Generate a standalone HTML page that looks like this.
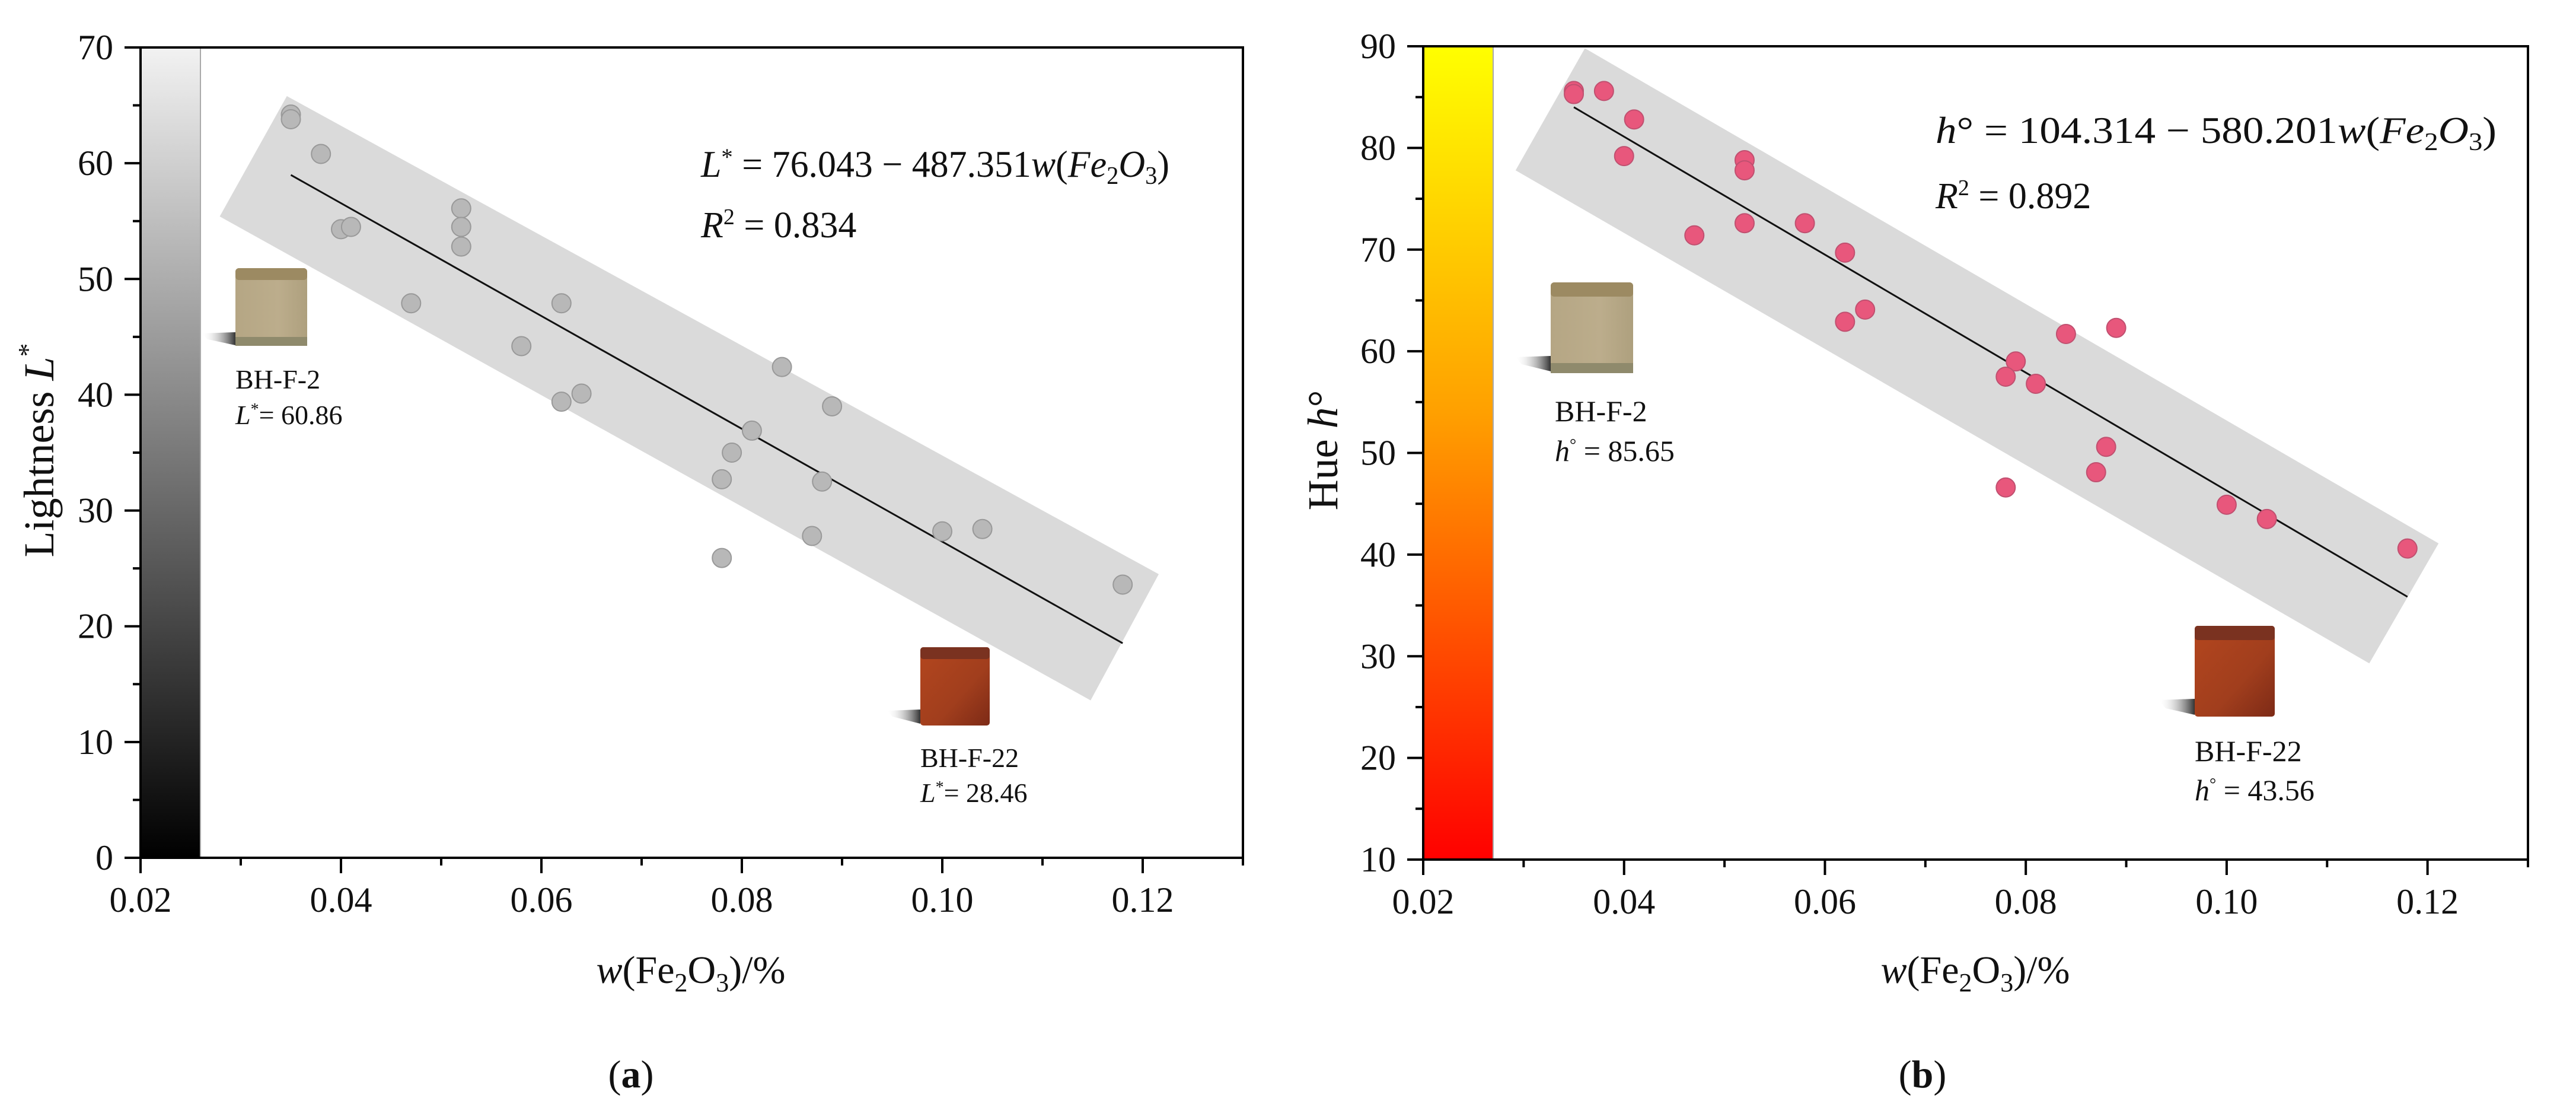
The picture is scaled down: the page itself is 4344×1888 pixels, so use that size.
<!DOCTYPE html>
<html><head><meta charset="utf-8">
<style>
html,body{margin:0;padding:0;background:#fff;}
svg{display:block;font-family:"Liberation Serif",serif;}
svg text{font-family:"Liberation Serif",serif;}
</style></head>
<body>
<svg id="fig" width="4344" height="1888" viewBox="0 0 4344 1888" xmlns="http://www.w3.org/2000/svg" style="font-family:'Liberation Serif',serif">
<defs>
<linearGradient id="gGray" x1="0" y1="0" x2="0" y2="1"><stop offset="0" stop-color="#f2f2f2"/><stop offset="1" stop-color="#000"/></linearGradient>
<linearGradient id="gHue" x1="0" y1="0" x2="0" y2="1"><stop offset="0" stop-color="#ffff00"/><stop offset="0.45" stop-color="#ffa000"/><stop offset="1" stop-color="#ff0000"/></linearGradient>
<linearGradient id="cubeA" x1="0" y1="0" x2="1" y2="0"><stop offset="0" stop-color="#b5a684"/><stop offset="0.6" stop-color="#bcad8c"/><stop offset="1" stop-color="#aea07e"/></linearGradient>
<linearGradient id="cubeB" x1="0" y1="0" x2="1" y2="1"><stop offset="0" stop-color="#b3461e"/><stop offset="0.6" stop-color="#a13e1d"/><stop offset="1" stop-color="#7d2a16"/></linearGradient>
<linearGradient id="shadow" x1="0" y1="0" x2="1" y2="0"><stop offset="0" stop-color="#fff" stop-opacity="0"/><stop offset="1" stop-color="#333"/></linearGradient>
</defs>
<g id="panelA"></g>
<g id="panelB"></g>
</svg>
<script>
// ---- Panel (a) data ----
const aX = [0.035,0.035,0.038,0.040,0.041,0.052,0.052,0.052,0.047,0.062,0.058,0.062,0.064,0.084,0.089,0.081,0.079,0.078,0.088,0.087,0.078,0.100,0.104,0.118];
const aY = [64.2,63.8,60.8,54.3,54.5,56.1,54.5,52.8,47.9,47.9,44.2,39.4,40.1,42.4,39.0,36.9,35.0,32.7,32.5,27.8,25.9,28.2,28.4,23.6];
const aFit = [76.043, -487.351];
const aFitRange = [0.035, 0.118];
const aBandX = [0.0279,0.0346,0.1216,0.1148];
const aBandY = [55.4,65.8,24.5,13.6];
const aYTicks = [0,10,20,30,40,50,60,70];
// ---- Panel (b) data ----
const bX = [0.035,0.035,0.038,0.041,0.040,0.052,0.052,0.052,0.047,0.058,0.062,0.062,0.064,0.084,0.089,0.079,0.078,0.081,0.088,0.087,0.078,0.100,0.104,0.118];
const bY = [85.6,85.3,85.6,82.8,79.2,78.8,77.8,72.6,71.4,72.6,69.7,62.9,64.1,61.7,62.3,59.0,57.5,56.8,50.6,48.1,46.6,44.9,43.5,40.6];
const bFit = [104.314, -580.201];
const bFitRange = [0.035, 0.118];
const bBandX = [0.0292,0.0361,0.1211,0.1142];
const bBandY = [77.8,89.8,41.1,29.3];
const bYTicks = [10,20,30,40,50,60,70,80,90];
const xTicks = [0.02,0.04,0.06,0.08,0.10,0.12];

const NS = "http://www.w3.org/2000/svg";
function mk(parent, tag, attrs, text){
  const e = document.createElementNS(NS, tag);
  for (const k in attrs) e.setAttribute(k, attrs[k]);
  if (text !== undefined) e.textContent = text;
  parent.appendChild(e);
  return e;
}

function drawPanel(g, cfg){
  const sx = v => cfg.x0 + (v - 0.02) / 0.11 * (cfg.x1 - cfg.x0);
  const sy = v => cfg.yb - (v - cfg.ymin) / (cfg.ymax - cfg.ymin) * (cfg.yb - cfg.yt);
  const cb = mk(g, 'rect', {x: cfg.x0, y: cfg.yt, width: cfg.cbW, height: cfg.yb - cfg.yt, fill: cfg.cbFill, stroke: '#aaa', 'stroke-width': 2});
  
  
  let pts = cfg.bandX.map((v,i) => sx(v) + ',' + sy(cfg.bandY[i])).join(' ');
  const band = mk(g, 'polygon', {points: pts, fill: '#dadada'});
  
  
  const fl = mk(g, 'line', {x1: sx(cfg.fitR[0]), y1: sy(cfg.fit[0] + cfg.fit[1]*cfg.fitR[0]), x2: sx(cfg.fitR[1]), y2: sy(cfg.fit[0] + cfg.fit[1]*cfg.fitR[1]), stroke: '#111', 'stroke-width': 3});
  
  
  cfg.xs.forEach((v,i) => {
    const c = mk(g, 'circle', {cx: sx(v), cy: sy(cfg.ys[i]), r: 16, fill: cfg.ptFill, stroke: cfg.ptStroke, 'stroke-width': 2});
    
    
  });
  const fr = mk(g, 'rect', {x: cfg.x0, y: cfg.yt, width: cfg.x1 - cfg.x0, height: cfg.yb - cfg.yt, fill: 'none', stroke: '#000', 'stroke-width': 4});
  
  
  for (let k = 0; k <= 11; k++){
    const v = 0.02 + k*0.01, X = sx(v);
    mk(g, 'line', {x1: X, y1: cfg.yb, x2: X, y2: cfg.yb + (k % 2 === 0 ? 26 : 13), stroke: '#000', 'stroke-width': 4});
  }
  xTicks.forEach(v => {
    const t = mk(g, 'text', {x: sx(v), y: cfg.yb + 91, 'font-size': 60, 'text-anchor': 'middle', fill: '#111'}, v.toFixed(2));
    t.style.fontFamily = '"Liberation Serif", serif';
    
    
  });
  for (let v = cfg.ymin; v <= cfg.ymax; v += 5){
    const Y = sy(v), major = (v % 10 === 0);
    mk(g, 'line', {x1: cfg.x0, y1: Y, x2: cfg.x0 - (major ? 27 : 13), y2: Y, stroke: '#000', 'stroke-width': 4});
  }
  cfg.yTicks.forEach(v => {
    const t = mk(g, 'text', {x: cfg.x0 - 46, y: sy(v) + 20, 'font-size': 60, 'text-anchor': 'end', fill: '#111'}, String(v));
    t.style.fontFamily = '"Liberation Serif", serif';
    
    
  });
}

const A = document.getElementById('panelA'), B = document.getElementById('panelB');
drawPanel(A, {x0: 237, x1: 2096, yt: 80, yb: 1446, ymin: 0, ymax: 70, cbW: 101, cbFill: 'url(#gGray)',
  bandX: aBandX, bandY: aBandY, fit: aFit, fitR: aFitRange, xs: aX, ys: aY, ptFill: '#b8b8b8', ptStroke: '#999', yTicks: aYTicks});
drawPanel(B, {x0: 2400, x1: 4263, yt: 78, yb: 1449, ymin: 10, ymax: 90, cbW: 118, cbFill: 'url(#gHue)',
  bandX: bBandX, bandY: bBandY, fit: bFit, fitR: bFitRange, xs: bX, ys: bY, ptFill: '#e8577c', ptStroke: '#c05070', yTicks: bYTicks});
</script>

<svg width="4344" height="1888" viewBox="0 0 4344 1888" style="position:absolute;left:0;top:0;" xmlns="http://www.w3.org/2000/svg">
 <g style="font-family:'Liberation Serif',serif" fill="#111">
  <!-- panel a -->
  <text transform="translate(90,759) rotate(-90)" font-size="72" text-anchor="middle">Lightness <tspan font-style="italic">L</tspan><tspan dy="-28" font-size="46">*</tspan></text>
  <text x="1165" y="1657" font-size="66" text-anchor="middle"><tspan font-style="italic">w</tspan>(Fe<tspan dy="14" font-size="44">2</tspan><tspan dy="-14">O</tspan><tspan dy="14" font-size="44">3</tspan><tspan dy="-14">)/%</tspan></text>
  <text x="1064" y="1833" font-size="66" text-anchor="middle">(<tspan font-weight="bold">a</tspan>)</text>
  <text x="1182" y="298" font-size="64" textLength="790" lengthAdjust="spacingAndGlyphs"><tspan font-style="italic">L</tspan><tspan dy="-20" font-size="40">*</tspan><tspan dy="20"> = 76.043 − 487.351</tspan><tspan font-style="italic">w</tspan>(<tspan font-style="italic">Fe</tspan><tspan dy="12" font-size="42">2</tspan><tspan dy="-12" font-style="italic">O</tspan><tspan dy="12" font-size="42">3</tspan><tspan dy="-12">)</tspan></text>
  <text x="1182" y="400" font-size="62"><tspan font-style="italic">R</tspan><tspan dy="-22" font-size="38">2</tspan><tspan dy="22"> = 0.834</tspan></text>
  <polygon points="340,562 397,560 397,582 350,572" fill="url(#shadow)"/>
  <rect x="397" y="452" width="121" height="131" rx="6" fill="url(#cubeA)"/>
  <rect x="397" y="452" width="121" height="20" rx="6" fill="#9c8a62"/>
  <rect x="397" y="568" width="121" height="15" fill="#8f8a6c"/>
  <text x="397" y="655" font-size="46">BH-F-2</text>
  <text x="397" y="715" font-size="46"><tspan font-style="italic">L</tspan><tspan dy="-16" font-size="28">*</tspan><tspan dy="16">= 60.86</tspan></text>
  <polygon points="1495,1198 1552,1196 1552,1220 1505,1208" fill="url(#shadow)"/>
  <rect x="1552" y="1091" width="117" height="132" rx="5" fill="url(#cubeB)"/>
  <rect x="1552" y="1091" width="117" height="20" rx="5" fill="#7a3220"/>
  <text x="1552" y="1293" font-size="46">BH-F-22</text>
  <text x="1552" y="1352" font-size="46"><tspan font-style="italic">L</tspan><tspan dy="-16" font-size="28">*</tspan><tspan dy="16">= 28.46</tspan></text>
  <!-- panel b -->
  <text transform="translate(2255,759) rotate(-90)" font-size="72" text-anchor="middle">Hue <tspan font-style="italic">h</tspan>°</text>
  <text x="3331" y="1657" font-size="66" text-anchor="middle"><tspan font-style="italic">w</tspan>(Fe<tspan dy="14" font-size="44">2</tspan><tspan dy="-14">O</tspan><tspan dy="14" font-size="44">3</tspan><tspan dy="-14">)/%</tspan></text>
  <text x="3242" y="1833" font-size="66" text-anchor="middle">(<tspan font-weight="bold">b</tspan>)</text>
  <text x="3264" y="241" font-size="64" textLength="946" lengthAdjust="spacingAndGlyphs"><tspan font-style="italic">h</tspan>° = 104.314 − 580.201<tspan font-style="italic">w</tspan>(<tspan font-style="italic">Fe</tspan><tspan dy="12" font-size="42">2</tspan><tspan dy="-12" font-style="italic">O</tspan><tspan dy="12" font-size="42">3</tspan><tspan dy="-12">)</tspan></text>
  <text x="3264" y="351" font-size="62"><tspan font-style="italic">R</tspan><tspan dy="-22" font-size="38">2</tspan><tspan dy="22"> = 0.892</tspan></text>
  <polygon points="2555,602 2615,600 2615,626 2566,614" fill="url(#shadow)"/>
  <rect x="2615" y="476" width="139" height="153" rx="6" fill="url(#cubeA)"/>
  <rect x="2615" y="476" width="139" height="24" rx="6" fill="#9c8a62"/>
  <rect x="2615" y="612" width="139" height="17" fill="#8f8a6c"/>
  <text x="2622" y="710" font-size="50">BH-F-2</text>
  <text x="2622" y="777" font-size="50"><tspan font-style="italic">h</tspan><tspan dy="-18" font-size="28">°</tspan><tspan dy="18"> = 85.65</tspan></text>
  <polygon points="3640,1180 3701,1178 3701,1205 3652,1194" fill="url(#shadow)"/>
  <rect x="3701" y="1055" width="135" height="153" rx="5" fill="url(#cubeB)"/>
  <rect x="3701" y="1055" width="135" height="24" rx="5" fill="#7a3220"/>
  <text x="3701" y="1283" font-size="50">BH-F-22</text>
  <text x="3701" y="1349" font-size="50"><tspan font-style="italic">h</tspan><tspan dy="-18" font-size="28">°</tspan><tspan dy="18"> = 43.56</tspan></text>
 </g>
</svg>
</body></html>
